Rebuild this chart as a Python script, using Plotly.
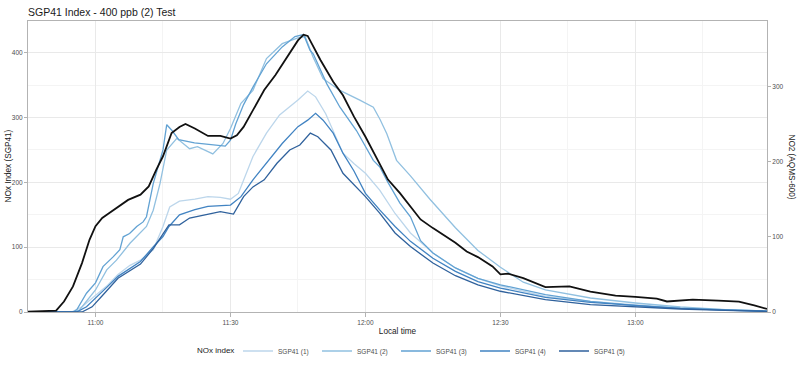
import pandas as pd
import plotly.graph_objects as go

DAY = "2023-05-01 "

# NO2 reference analyser (right axis, AQMS-600)
no2_times = ["10:45:00","10:51:15","10:53:00","10:55:00","10:57:00","10:58:40","11:00:00","11:01:30","11:02:55","11:05:00",
             "11:07:15","11:10:00","11:11:50","11:13:30","11:15:00","11:16:55","11:18:40","11:20:00","11:22:05","11:25:00",
             "11:27:45","11:30:00","11:31:25","11:32:55","11:35:00","11:37:30","11:40:00","11:42:35","11:45:00","11:46:15",
             "11:47:10","11:50:00","11:52:50","11:55:00","11:57:25","12:00:00","12:03:10","12:05:00","12:07:40","12:10:00",
             "12:12:15","12:15:00","12:18:00","12:20:00","12:22:30","12:25:00","12:28:15","12:30:00","12:31:40","12:35:05",
             "12:40:00","12:43:05","12:45:20","12:50:00","12:55:35","13:00:00","13:04:45","13:07:00","13:12:45","13:18:25",
             "13:23:00","13:26:25","13:29:15"]
no2_values = [0.4,1.8,14,34,65,96,114,125,131,140,
              149,156,167,189,207,238,246,250,244,234,
              234,230.5,235,246,269,295,315,339,361,368.6,
              367,335,306,288,260,233,198,176,158,140,
              123,111.5,100,92,80.5,73,60.6,50,51,45,
              33,33,34,27,21.7,20,17.7,14,16.4,15,
              13.7,8.8,4]

sgp1_times = ["10:45:00","10:54:40","10:57:00","11:00:00","11:02:30","11:05:00","11:07:40","11:10:00","11:12:50","11:15:00",
              "11:16:30","11:18:40","11:22:05","11:25:00","11:27:45","11:30:00","11:31:45","11:35:00","11:38:00","11:40:55",
              "11:45:00","11:47:10","11:48:55","11:51:10","11:52:50","11:55:00","11:57:25","12:00:00","12:03:10","12:06:35",
              "12:10:00","12:15:00","12:20:00","12:25:00","12:30:00","12:40:00","12:50:00","13:00:00","13:10:00","13:20:00",
              "13:29:15"]
sgp1_values = [0,0,8,26,40,58,72,80,96,132,
               162,171,174,178,177,174,183,240,276,304,
               327,341,332,306,280,245,229,214,188,152,
               122,91,68,52,40.5,24,16.4,11,6,3,
               1.5]

sgp2_times = ["10:45:00","10:55:15","10:56:30","10:58:45","11:00:00","11:02:30","11:04:40","11:07:40","11:09:50","11:11:20",
              "11:12:50","11:14:20","11:15:50","11:18:05","11:20:55","11:22:40","11:26:05","11:28:20","11:30:00","11:32:20",
              "11:35:00","11:38:00","11:41:30","11:45:00","11:46:35","11:47:40","11:48:20","11:50:35","11:54:20","11:58:45",
              "12:00:00","12:01:45","12:03:15","12:04:45","12:06:55","12:10:00","12:14:20","12:20:00","12:25:00","12:30:00",
              "12:35:05","12:40:00","12:50:00","13:00:00","13:10:00","13:20:00","13:29:15"]
sgp2_values = [0,0,3.5,24,34,65,80,106,121,132,
               157,198,250,268,252,255,244,260,283,322,
               342,391,414,423,425,404,394,360,342,327,
               322,316,297,275,234,210,174,130,95,69,
               46,34,21.6,13.9,7.7,3.6,1.5]

sgp3_times = ["10:45:00","10:55:00","10:55:50","10:58:00","11:00:00","11:01:40","11:03:55","11:05:25","11:06:10","11:07:35",
              "11:09:10","11:10:35","11:11:20","11:12:50","11:15:00","11:15:50","11:17:00","11:18:30","11:22:00","11:25:00",
              "11:28:50","11:30:00","11:31:10","11:32:55","11:35:00","11:38:00","11:41:30","11:44:20","11:46:15","11:47:40",
              "11:48:25","11:51:25","11:54:20","11:58:00","12:01:45","12:03:10","12:05:00","12:07:40","12:10:00","12:12:15",
              "12:15:00","12:20:00","12:25:00","12:30:00","12:40:00","12:50:00","13:00:00","13:10:00","13:20:00","13:29:15"]
sgp3_values = [0,0,3.5,29,45,70,85,96,116,121,
               132,139,147,198,250,289,280,266,261,259,
               256,265,290,320,347,383,409,425,428,404,
               398,352,316,280,234,224,200,168,147,110,
               91,68,52,42,26.7,16.4,9.8,5.6,3,1.5]

sgp4_times = ["10:45:00","10:55:50","10:58:00","11:00:00","11:02:30","11:05:00","11:07:40","11:10:00","11:12:55","11:15:00",
              "11:16:20","11:18:40","11:22:05","11:25:00","11:30:00","11:32:20","11:35:00","11:38:00","11:41:30","11:45:00",
              "11:47:10","11:48:55","11:50:35","11:52:50","11:55:00","11:57:25","12:00:00","12:03:10","12:06:35","12:10:00",
              "12:15:00","12:20:00","12:25:00","12:30:00","12:40:00","12:50:00","13:00:00","13:10:00","13:20:00","13:29:15"]
sgp4_values = [0,0,8,22,38,55,67,78,101,116.5,
               132,150,158,163,165,178,204,229.5,260,286,
               296,306.5,296,276,245,218,183,157.5,132,109,
               83,62.6,47,37,22.6,14.9,9.8,5.6,3,1]

sgp5_times = ["10:45:00","10:57:00","10:59:15","11:00:00","11:01:30","11:05:00","11:07:40","11:10:00","11:12:55","11:16:20",
              "11:18:40","11:20:55","11:24:20","11:27:45","11:30:40","11:32:55","11:35:00","11:37:30","11:40:20","11:43:10",
              "11:45:25","11:47:45","11:49:25","11:52:20","11:55:00","11:57:25","12:00:00","12:03:10","12:06:35","12:10:00",
              "12:15:00","12:20:00","12:25:00","12:30:00","12:40:00","12:50:00","13:00:00","13:10:00","13:20:00","13:29:15"]
sgp5_values = [0,0,8,14,25,52,64,74,98.5,134.5,
               134.5,145,150,155,151,178,193,204,229.5,250,
               257.7,276,270.5,250,214,196,178,152.5,122,101,
               75.5,56,42,32,19,11.3,7.7,4.6,2.6,1]

series_names = ["SGP41 (1)", "SGP41 (2)", "SGP41 (3)", "SGP41 (4)", "SGP41 (5)"]
series_times = [sgp1_times, sgp2_times, sgp3_times, sgp4_times, sgp5_times]
series_values = [sgp1_values, sgp2_values, sgp3_values, sgp4_values, sgp5_values]
series_colors = ["#bcd6eb", "#91c0e0", "#62a2d3", "#4183c2", "#2f619c"]

x_start, x_end = "10:45:00", "13:29:15"
y_left_max, y_right_max = 449, 386.8

def to_dt(ts):
    return pd.to_datetime([DAY + t for t in ts])

FONT = "Liberation Sans, Arial, sans-serif"
fig = go.Figure()
for name, ts, vs, col in zip(series_names, series_times, series_values, series_colors):
    fig.add_trace(go.Scatter(x=to_dt(ts), y=vs, name=name, mode="lines",
                             line=dict(color=col, width=1.3), yaxis="y"))
fig.add_trace(go.Scatter(x=to_dt(no2_times), y=no2_values, name="NO2 (AQMS-600)", mode="lines",
                         line=dict(color="#111111", width=1.8), yaxis="y2", showlegend=False))

grid_major = "#e9e9e9"
grid_minor = "#f4f4f4"
border = "#b3b3b3"
tickfont = dict(family=FONT, size=6.5, color="#4d4d4d")

fig.update_layout(
    width=800, height=370,
    margin=dict(l=28, r=33, t=21, b=58, autoexpand=False),
    paper_bgcolor="white", plot_bgcolor="white",
    font=dict(family=FONT, color="#222222"),
    title=dict(text="SGP41 Index - 400 ppb (2) Test", x=28/800, xanchor="left",
               xref="container", y=1-12.7/370, yanchor="middle", yref="container",
               font=dict(family=FONT, size=10.5, color="#1a1a1a")),
    xaxis=dict(type="date", range=[DAY + x_start, DAY + x_end], automargin=False,
               tick0=DAY + "11:00:00", dtick=30*60*1000, tickformat="%H:%M",
               showgrid=True, gridcolor=grid_major, gridwidth=1,
               minor=dict(dtick=15*60*1000, tick0=DAY + "11:00:00", showgrid=True, gridcolor=grid_minor, ticks=""),
               ticks="outside", ticklen=4, tickcolor=border, tickfont=tickfont,
               showline=True, linecolor=border, linewidth=1, mirror=True, zeroline=False,
               title=dict(text="Local time", font=dict(family=FONT, size=8.2, color="#1a1a1a"), standoff=3)),
    yaxis=dict(range=[0, y_left_max], tickvals=[0, 100, 200, 300, 400], automargin=False,
               showgrid=True, gridcolor=grid_major,
               minor=dict(tickvals=[50, 150, 250, 350], showgrid=True, gridcolor=grid_minor, ticks=""),
               ticks="outside", ticklen=3, tickcolor=border, tickfont=tickfont,
               showline=True, linecolor=border, linewidth=1, mirror=True, zeroline=False),
    yaxis2=dict(range=[0, y_right_max], tickvals=[0, 100, 200, 300], overlaying="y", side="right",
                automargin=False,
                showgrid=False, ticks="outside", ticklen=3, tickcolor=border, tickfont=tickfont,
                showline=True, linecolor=border, linewidth=1, zeroline=False),
    legend=dict(orientation="h", x=(238-28)/739, xanchor="left",
                y=1-351/370, yref="container", yanchor="middle",
                font=dict(family=FONT, size=6.5, color="#4d4d4d"), itemwidth=30,
                entrywidth=34, entrywidthmode="pixels",
                bgcolor="rgba(0,0,0,0)"),
    showlegend=True,
    annotations=[
        dict(text="NOx index", xref="paper", yref="paper",
             x=(236-28)/739, y=(312.3-351)/291, xanchor="right", yanchor="middle", showarrow=False,
             font=dict(family=FONT, size=8, color="#1a1a1a")),
        dict(text="NOx Index (SGP41)", textangle=-90, xref="paper", yref="paper",
             x=(8-28)/739, y=0.5, xanchor="center", yanchor="middle", showarrow=False,
             font=dict(family=FONT, size=8.2, color="#1a1a1a")),
        dict(text="NO2 (AQMS-600)", textangle=90, xref="paper", yref="paper",
             x=(791-28)/739, y=0.5, xanchor="center", yanchor="middle", showarrow=False,
             font=dict(family=FONT, size=8.2, color="#1a1a1a")),
    ],
)

fig.write_html("out.html")
